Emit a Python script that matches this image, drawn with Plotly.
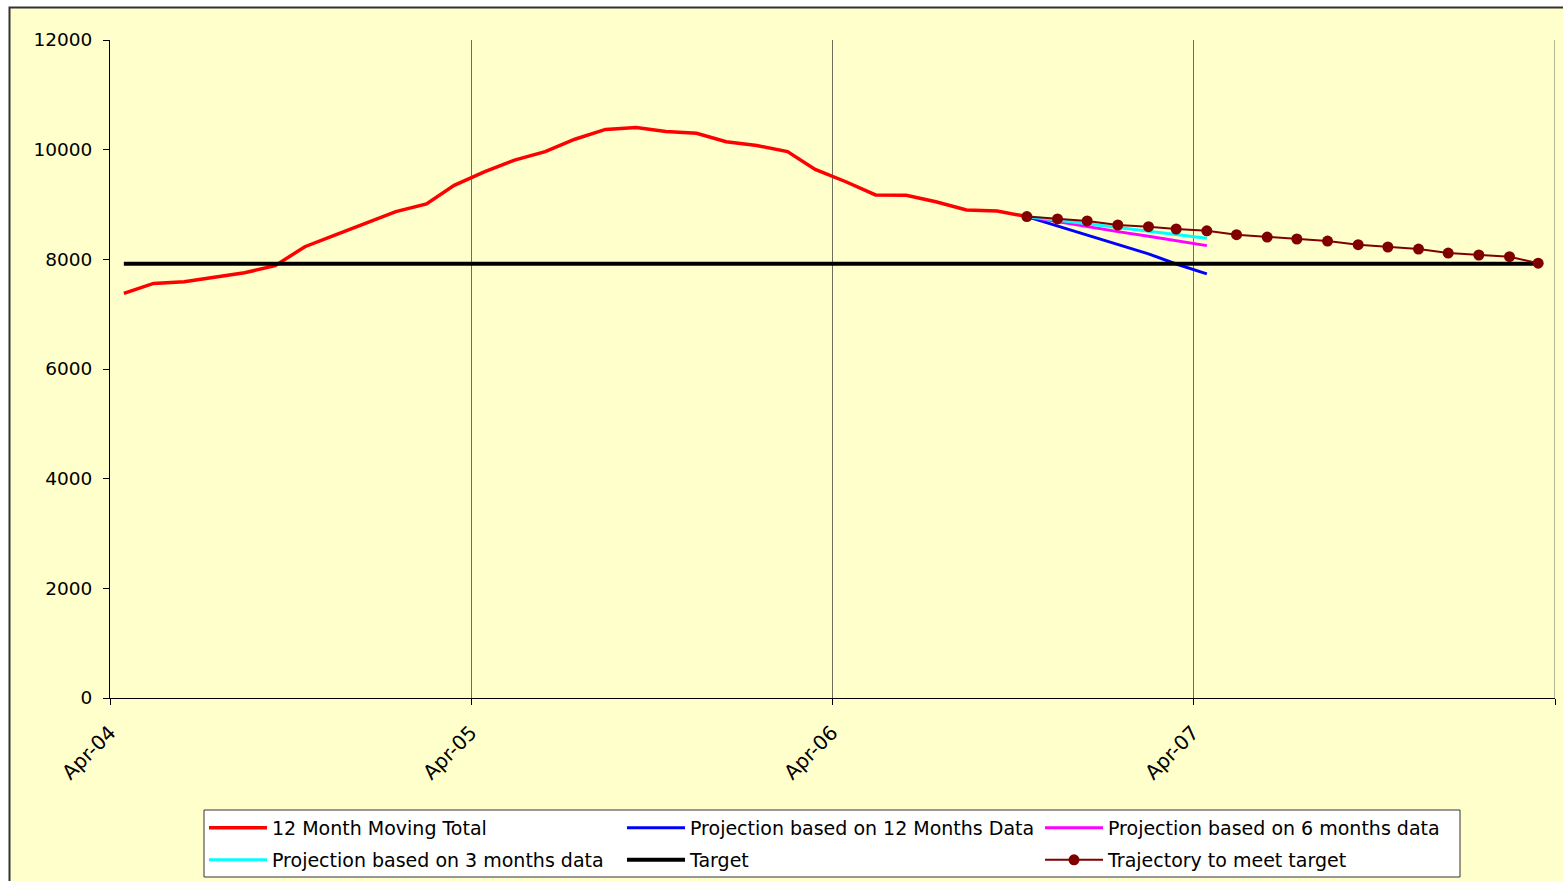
import pandas as pd
import plotly.graph_objects as go

# ---- data ----
start_month = "2004-04-01"
n_months = 48
months = list(pd.date_range(start_month, periods=n_months, freq="MS") + pd.Timedelta(days=14))

moving_total = [7380, 7560, 7590, 7670, 7755, 7885, 8230, 8445, 8655, 8870, 9010, 9350,
                9600, 9810, 9965, 10190, 10370, 10405, 10330, 10300, 10145, 10075, 9965, 9640,
                9415, 9175, 9170, 9050, 8900, 8880, 8780]
proj_12 = [8780, 8610, 8440, 8265, 8100, 7915, 7735]
proj_6 = [8780, 8685, 8595, 8505, 8420, 8340, 8250]
proj_3 = [8780, 8715, 8650, 8580, 8515, 8450, 8385]
target_value = 7920
trajectory = [8780, 8736, 8700, 8626, 8596, 8553, 8520, 8450, 8407, 8371, 8334, 8267,
              8225, 8188, 8115, 8079, 8048, 7930]

proj_start = 30  # Oct-06
x_moving = months[:len(moving_total)]
x_proj = months[proj_start:proj_start + len(proj_12)]
x_traj = months[proj_start:proj_start + len(trajectory)]
target = [target_value] * n_months

names = ["12 Month Moving Total", "Projection based on 12 Months Data",
         "Projection based on 6 months data", "Projection based on 3 months data",
         "Target", "Trajectory to meet target"]

FONT = "DejaVu Sans"

fig = go.Figure()
fig.add_trace(go.Scatter(x=x_moving, y=moving_total, mode="lines", name=names[0],
                         line=dict(color="#FF0000", width=3.5), legend="legend"))
fig.add_trace(go.Scatter(x=x_proj, y=proj_12, mode="lines", name=names[1],
                         line=dict(color="#0000FF", width=3), legend="legend"))
fig.add_trace(go.Scatter(x=x_proj, y=proj_6, mode="lines", name=names[2],
                         line=dict(color="#FF00FF", width=3), legend="legend"))
fig.add_trace(go.Scatter(x=x_proj, y=proj_3, mode="lines", name=names[3],
                         line=dict(color="#00FFFF", width=3), legend="legend2"))
fig.add_trace(go.Scatter(x=months, y=target, mode="lines", name=names[4],
                         line=dict(color="#000000", width=4), legend="legend2"))
fig.add_trace(go.Scatter(x=x_traj, y=trajectory, mode="lines+markers", name=names[5],
                         line=dict(color="#800000", width=2),
                         marker=dict(color="#800000", size=11), legend="legend2"))

# pixel helpers for layout placement
L, R, T, B = 110, 8, 40, 183
W, H = 1563, 881
pw, ph = W - L - R, H - T - B
def px(x):
    return (x - L) / pw
def py(y):
    return (H - B - y) / ph

legend_common = dict(orientation="h", xanchor="left", yanchor="middle",
                     x=px(204), bgcolor="rgba(0,0,0,0)", borderwidth=0,
                     font=dict(family=FONT, size=19, color="#000000"),
                     entrywidth=345, entrywidthmode="pixels", itemwidth=58,
                     traceorder="normal")

fig.update_layout(
    width=W, height=H,
    margin=dict(l=L, r=R, t=T, b=B, pad=0, autoexpand=False),
    paper_bgcolor="#FFFFFF",
    plot_bgcolor="rgba(0,0,0,0)",
    font=dict(family=FONT, size=18, color="#000000"),
    showlegend=True,
    legend=dict(legend_common, y=py(828)),
    legend2=dict(legend_common, y=py(860)),
    xaxis=dict(type="date", range=["2004-04-01", "2008-04-01"],
               tick0="2004-04-01", dtick="M12", tickformat="%b-%y",
               tickangle=-45, ticks="outside", ticklen=6, tickcolor="#000000",
               ticklabelstandoff=8,
               showgrid=True, gridcolor="#6e6e5a", gridwidth=1,
               showline=True, linecolor="#000000", linewidth=1,
               zeroline=False, tickfont=dict(family=FONT, size=20)),
    yaxis=dict(range=[0, 12000], dtick=2000, tick0=0, tickformat="d",
               ticks="outside", ticklen=6, tickcolor="#000000",
               ticklabelstandoff=7,
               showgrid=False, showline=True, linecolor="#000000", linewidth=1,
               zeroline=False, tickfont=dict(family=FONT, size=18.5)),
    shapes=[
        dict(type="rect", xref="paper", yref="paper", layer="below",
             x0=px(9.5), x1=px(1600), y0=py(920), y1=py(7.5),
             fillcolor="#FFFFCC", line=dict(color="#333333", width=2)),
        dict(type="line", xref="x", yref="paper", layer="below",
             x0="2008-04-01", x1="2008-04-01", y0=0, y1=1,
             line=dict(color="#6e6e5a", width=1)),
        dict(type="rect", xref="paper", yref="paper", layer="below",
             x0=px(204), x1=px(1460), y0=py(877), y1=py(810),
             fillcolor="#FFFFFF", line=dict(color="#333333", width=1)),
    ],
)

fig.write_html("out.html")
